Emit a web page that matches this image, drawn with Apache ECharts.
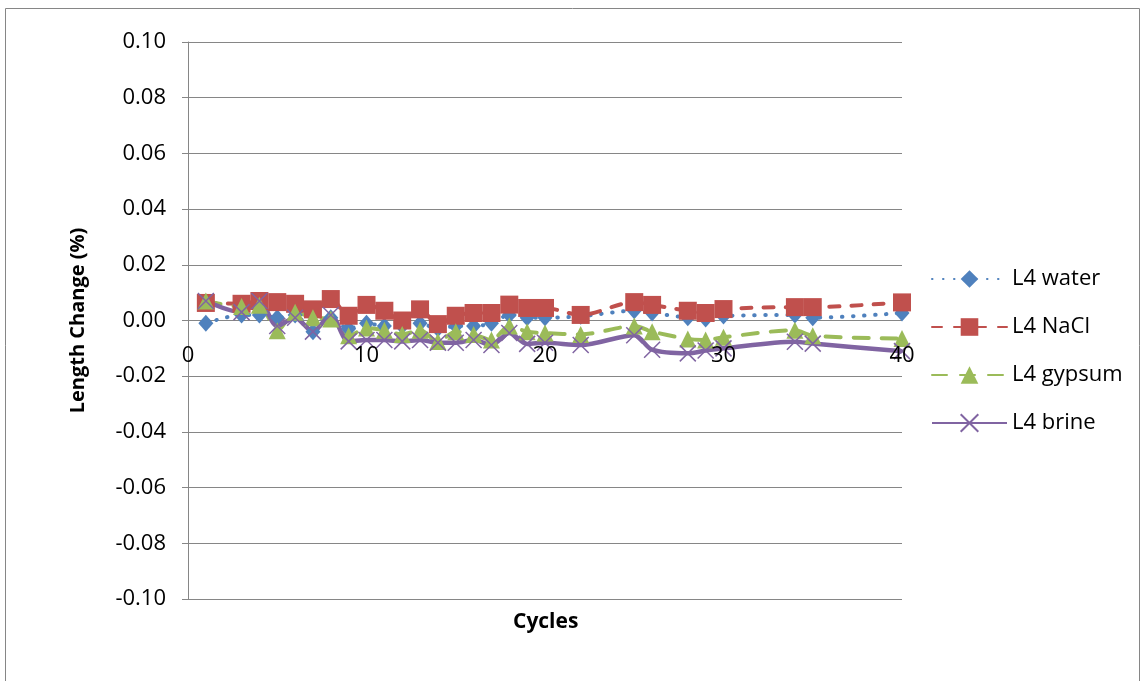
<!DOCTYPE html>
<html>
<head>
<meta charset="utf-8">
<script src="https://cdn.jsdelivr.net/npm/echarts@6/dist/echarts.min.js"></script>
<style>
html,body{margin:0;padding:0;background:#fff;}
#chart{width:1142px;height:681px;}
</style>
</head>
<body>
<div id="chart"></div>
<script>
// ---- data ----
const cycles = [1,3,4,5,6,7,8,9,10,11,12,13,14,15,16,17,18,19,20,22,25,26,28,29,30,34,35,40];
const water  = [-0.001,0.002,0.002,0.001,0.002,-0.004,0.001,-0.003,-0.001,-0.002,-0.002,-0.001,-0.003,-0.002,-0.002,-0.001,0.002,0.001,0.001,0.0015,0.0035,0.0027,0.001,0.0005,0.0016,0.002,0.001,0.0027];
const nacl   = [0.0063,0.006,0.007,0.0066,0.006,0.004,0.0077,0.0017,0.0056,0.0035,0.000,0.004,-0.0013,0.0017,0.0027,0.0027,0.0057,0.0045,0.0045,0.002,0.0066,0.0056,0.0035,0.0027,0.0041,0.0048,0.0048,0.0065];
const gypsum = [0.007,0.005,0.0055,-0.0037,0.003,0.001,0.0005,-0.0055,-0.0027,-0.0035,-0.005,-0.0035,-0.0075,-0.004,-0.005,-0.007,-0.002,-0.004,-0.0045,-0.005,-0.002,-0.004,-0.0066,-0.007,-0.006,-0.0035,-0.0055,-0.0065];
const brine  = [0.007,0.003,0.007,-0.002,0.001,-0.004,0.002,-0.0075,-0.007,-0.007,-0.0075,-0.007,-0.008,-0.008,-0.007,-0.0088,-0.0045,-0.0084,-0.008,-0.0088,-0.0053,-0.0105,-0.0118,-0.0108,-0.0100,-0.0076,-0.0083,-0.011];
const seriesNames = ['L4 water','L4 NaCl','L4 gypsum','L4 brine'];
const xTitle = 'Cycles';
const yTitle = 'Length Change (%)';

const FONT = "'Open Sans', 'Liberation Sans', sans-serif";
const pairs = arr => cycles.map((c, i) => [c, arr[i]]);

const chart = echarts.init(document.getElementById('chart'), null, {renderer: 'canvas'});
const axisGray = '#868686';
const GRID_TOP = 42, GRID_BOTTOM = 82, H = 681;
const plotH = H - GRID_TOP - GRID_BOTTOM;
const Y_MIN = -0.1, Y_MAX = 0.1;
// move the x axis up so it sits on y = 0 (as in the reference)
const zeroOffset = -plotH * (0 - Y_MIN) / (Y_MAX - Y_MIN);

chart.setOption({
  animation: false,
  backgroundColor: '#ffffff',
  textStyle: {fontFamily: FONT},
  grid: {left: 188, right: 240, top: GRID_TOP, bottom: GRID_BOTTOM, containLabel: false},
  graphic: [
    {type: 'rect', shape: {x: 5.5, y: 8.5, width: 1134, height: 700}, style: {fill: 'none', stroke: axisGray, lineWidth: 1}, silent: true},
    {type: 'text', left: 513, top: 612, style: {text: xTitle, font: 'bold 21px ' + FONT, fill: '#000'}}
  ],
  legend: {
    orient: 'vertical',
    left: 926,
    top: 263,
    itemWidth: 75,
    itemHeight: 22,
    itemGap: 26,
    data: seriesNames,
    textStyle: {fontSize: 22, color: '#000', fontFamily: FONT, lineHeight: 22}
  },
  xAxis: {
    type: 'value',
    position: 'bottom',
    offset: zeroOffset,
    z: 5,
    min: 0, max: 40, interval: 10,
    axisLine: {show: false, onZero: false},
    axisTick: {show: false},
    splitLine: {show: false},
    axisLabel: {fontSize: 22, color: '#000', margin: 24, fontFamily: FONT}
  },
  yAxis: {
    type: 'value',
    min: Y_MIN, max: Y_MAX, interval: 0.02,
    name: yTitle,
    nameLocation: 'middle',
    nameGap: 100,
    nameTextStyle: {fontSize: 20, fontWeight: 'bold', color: '#000', fontFamily: FONT},
    axisLine: {show: true, onZero: false, lineStyle: {color: axisGray, width: 1}},
    axisTick: {show: true, length: 6, lineStyle: {color: axisGray}},
    splitLine: {show: true, lineStyle: {color: axisGray, width: 1}},
    axisLabel: {
      fontSize: 22, color: '#000', margin: 22, fontFamily: FONT,
      formatter: v => { const r = Math.round(v * 100) / 100; return (Math.abs(r) < 1e-9 ? 0 : r).toFixed(2); }
    }
  },
  series: [
    {
      name: seriesNames[0], type: 'line', data: pairs(water), smooth: 0.3,
      symbol: 'diamond', symbolSize: [15, 17],
      itemStyle: {color: '#4F81BD'},
      lineStyle: {color: '#4F81BD', width: 4, type: [0.5, 10.5], cap: 'round'}
    },
    {
      name: seriesNames[1], type: 'line', data: pairs(nacl), smooth: 0.3,
      symbol: 'rect', symbolSize: 18,
      itemStyle: {color: '#C0504D'},
      lineStyle: {color: '#C0504D', width: 4, type: [10, 12], cap: 'round'}
    },
    {
      name: seriesNames[2], type: 'line', data: pairs(gypsum), smooth: 0.3,
      symbol: 'triangle', symbolSize: 17,
      itemStyle: {color: '#9BBB59'},
      lineStyle: {color: '#9BBB59', width: 4, type: [15, 13], cap: 'round'}
    },
    {
      name: seriesNames[3], type: 'line', data: pairs(brine), smooth: 0.3,
      symbol: 'path://M0,0L10,10M10,0L0,10', symbolSize: 16,
      itemStyle: {color: 'rgba(0,0,0,0)', borderColor: '#8064A2', borderWidth: 1.5},
      lineStyle: {color: '#8064A2', width: 4.5}
    }
  ]
});
</script>
</body>
</html>
